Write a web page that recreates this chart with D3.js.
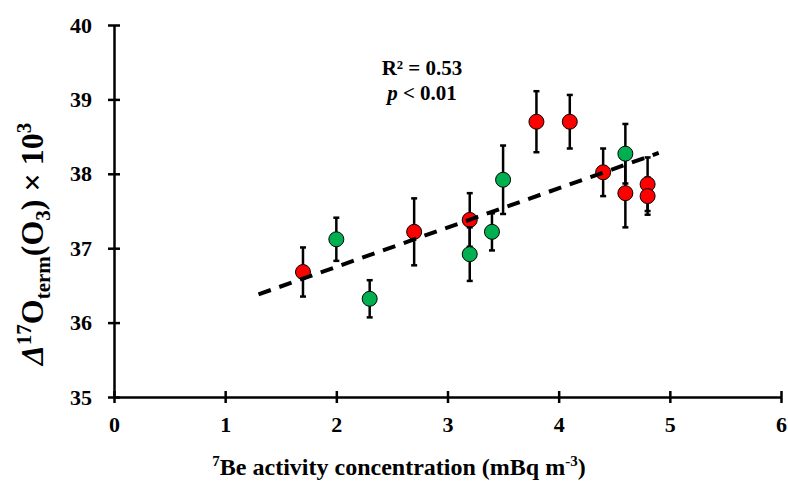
<!DOCTYPE html>
<html><head><meta charset="utf-8">
<script src="https://cdn.jsdelivr.net/npm/d3@7"></script>
<style>body{margin:0;background:#fff}svg{display:block}</style>
</head><body>
<svg id="c" width="788" height="482"></svg>
<script>
// Red series
const redX = [1.7, 2.7, 3.2, 3.8, 4.1, 4.4, 4.6, 4.8, 4.8];
const redY = [36.68, 37.22, 37.38, 38.70, 38.70, 38.02, 37.74, 37.86, 37.70];
const redErr = [0.33, 0.45, 0.36, 0.41, 0.36, 0.32, 0.46, 0.36, 0.25];
// Green series
const greenX = [2.0, 2.3, 3.2, 3.4, 3.5, 4.6];
const greenY = [37.12, 36.32, 36.92, 37.22, 37.92, 38.27];
const greenErr = [0.29, 0.25, 0.36, 0.25, 0.46, 0.40];
// Trend line endpoints
const trendX = [1.3, 4.9];
const trendY = [36.38, 38.28];
const xTicks = [0, 1, 2, 3, 4, 5, 6];
const yTicks = [35, 36, 37, 38, 39, 40];

const svg = d3.select("#c");
const L = 114, R = 781, T = 25, B = 397;
const x = d3.scaleLinear().domain([0, 6]).range([L, R]);
const y = d3.scaleLinear().domain([35, 40]).range([B, T]);
const font = "Liberation Serif, Times New Roman, serif";

// axes
const xa = svg.append("g").attr("transform", `translate(0,${B})`)
  .call(d3.axisBottom(x).tickValues(xTicks).tickFormat(d3.format("d"))
    .tickSizeInner(6).tickSizeOuter(0).tickPadding(13));
const ya = svg.append("g").attr("transform", `translate(${L},0)`)
  .call(d3.axisLeft(y).tickValues(yTicks).tickFormat(d3.format("d"))
    .tickSizeInner(6).tickSizeOuter(0).tickPadding(16));
[xa, ya].forEach(a => {
  a.attr("font-family", font).attr("font-size", 22);
  a.select(".domain").attr("stroke", "#000").attr("stroke-width", 2.5);
  a.selectAll(".tick line").attr("stroke", "#000").attr("stroke-width", 2.5);
  a.selectAll(".tick text").attr("font-family", font).attr("font-weight", "bold")
    .attr("font-size", 22).attr("fill", "#000");
});
// ticks cross the axes
xa.selectAll(".tick line").attr("y1", -6).attr("y2", 6);
ya.selectAll(".tick line").attr("x1", -6).attr("x2", 6);

// error bars & points
function series(X, Y, E, color) {
  const g = svg.append("g");
  X.forEach((xv, i) => {
    const px = x(xv), y1 = y(Y[i] + E[i]), y2 = y(Y[i] - E[i]);
    g.append("line").attr("x1", px).attr("x2", px).attr("y1", y1).attr("y2", y2)
      .attr("stroke", "#000").attr("stroke-width", 2.5);
    [y1, y2].forEach(yy => g.append("line").attr("x1", px - 3).attr("x2", px + 3)
      .attr("y1", yy).attr("y2", yy).attr("stroke", "#000").attr("stroke-width", 2.5));
  });
  g.selectAll("circle").data(X).enter().append("circle")
    .attr("cx", d => x(d)).attr("cy", (d, i) => y(Y[i])).attr("r", 7.5)
    .attr("fill", color).attr("stroke", "#000").attr("stroke-width", 1);
}
series(redX, redY, redErr, "#ff0000");
series(greenX, greenY, greenErr, "#00b050");

// trend line
svg.append("line").attr("x1", x(trendX[0])).attr("y1", y(trendY[0]))
  .attr("x2", x(trendX[1])).attr("y2", y(trendY[1]))
  .attr("stroke", "#000").attr("stroke-width", 4).attr("stroke-dasharray", "13,9");

// annotation
const ann = svg.append("text").attr("font-family", font).attr("font-weight", "bold")
  .attr("font-size", 21).attr("text-anchor", "middle").attr("fill", "#000");
ann.append("tspan").attr("x", 422).attr("y", 75).text("R² = 0.53");
const t2 = ann.append("tspan").attr("x", 422).attr("y", 100);
t2.append("tspan").attr("font-style", "italic").text("p");
t2.append("tspan").text(" < 0.01");

// x title
const xt = svg.append("text").attr("x", 399).attr("y", 475).attr("text-anchor", "middle")
  .attr("font-family", font).attr("font-weight", "bold").attr("font-size", 24).attr("fill", "#000");
xt.append("tspan").attr("font-size", 15).attr("dy", -9).text("7");
xt.append("tspan").attr("dy", 9).text("Be activity concentration (mBq m");
xt.append("tspan").attr("font-size", 15).attr("dy", -9).text("-3");
xt.append("tspan").attr("dy", 9).text(")");

// y title
const yt = svg.append("text").attr("transform", "translate(43,244) rotate(-90)")
  .attr("text-anchor", "middle").attr("font-family", font).attr("font-weight", "bold")
  .attr("font-size", 32).attr("fill", "#000");
yt.append("tspan").attr("font-style", "italic").text("Δ");
yt.append("tspan").attr("font-size", 21).attr("dy", -12).text("17");
yt.append("tspan").attr("dy", 12).text("O");
yt.append("tspan").attr("font-size", 21).attr("dy", 7).text("term");
yt.append("tspan").attr("dy", -7).text("(O");
yt.append("tspan").attr("font-size", 21).attr("dy", 7).text("3");
yt.append("tspan").attr("dy", -7).text(") × 10");
yt.append("tspan").attr("font-size", 21).attr("dy", -12).text("3");
</script>
</body></html>
